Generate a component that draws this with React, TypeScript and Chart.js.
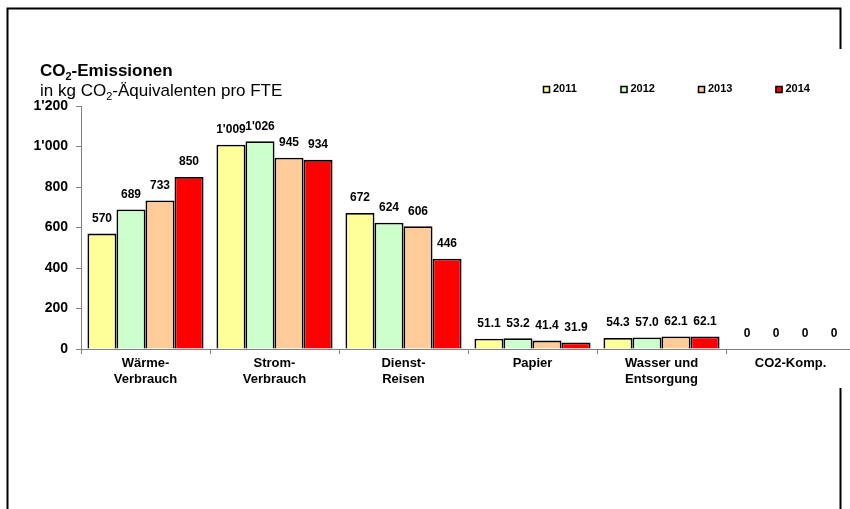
import React, { useEffect, useRef } from "react";
import { Chart, registerables } from "chart.js";

Chart.register(...registerables);

const categories: (string | string[])[] = [
  ["Wärme-", "Verbrauch"],
  ["Strom-", "Verbrauch"],
  ["Dienst-", "Reisen"],
  "Papier",
  ["Wasser und", "Entsorgung"],
  "CO2-Komp.",
];
const seriesLabels = ["2011", "2012", "2013", "2014"];
const values2011 = [570, 1009, 672, 51.1, 54.3, 0];
const values2012 = [689, 1026, 624, 53.2, 57.0, 0];
const values2013 = [733, 945, 606, 41.4, 62.1, 0];
const values2014 = [850, 934, 446, 31.9, 62.1, 0];
const labelDecimals = [0, 0, 0, 1, 1, 0];
const yTickValues = [0, 200, 400, 600, 800, 1000, 1200];
const seriesColors = ["#FFFF99", "#CCFFCC", "#FFCC99", "#FF0000"];

const titleParts = ["CO", "2", "-Emissionen"];
const subtitleParts = ["in kg CO", "2", "-Äquivalenten pro FTE"];

const FONT = "'Liberation Sans', Arial, sans-serif";

function fmt(v: number, d: number): string {
  if (v === 0) return "0";
  if (d > 0) return v.toFixed(d);
  return Math.round(v)
    .toString()
    .replace(/\B(?=(\d{3})+(?!\d))/g, "'");
}

const decorPlugin = {
  id: "decor",
  afterDraw(chart: any) {
    const ctx: CanvasRenderingContext2D = chart.ctx;
    ctx.save();
    // frame
    ctx.strokeStyle = "#000";
    ctx.lineWidth = 2;
    ctx.beginPath();
    ctx.moveTo(7.5, 512);
    ctx.lineTo(7.5, 8.5);
    ctx.lineTo(840.5, 8.5);
    ctx.lineTo(840.5, 49);
    ctx.stroke();
    ctx.beginPath();
    ctx.moveTo(840.5, 388);
    ctx.lineTo(840.5, 512);
    ctx.stroke();

    // title with subscript
    const drawSub = (parts: string[], x: number, y: number, weight: string, size: number) => {
      ctx.fillStyle = "#000";
      ctx.textBaseline = "alphabetic";
      ctx.textAlign = "left";
      ctx.font = `${weight} ${size}px ${FONT}`;
      ctx.fillText(parts[0], x, y);
      x += ctx.measureText(parts[0]).width;
      ctx.font = `${weight} ${Math.round(size * 0.62)}px ${FONT}`;
      ctx.fillText(parts[1], x, y + 4);
      x += ctx.measureText(parts[1]).width;
      ctx.font = `${weight} ${size}px ${FONT}`;
      ctx.fillText(parts[2], x, y);
    };
    drawSub(titleParts, 40, 76, "bold", 17);
    drawSub(subtitleParts, 40, 96, "normal", 17);

    // legend
    const ds = chart.data.datasets;
    ctx.font = `bold 11px ${FONT}`;
    ctx.textBaseline = "middle";
    ds.forEach((d: any, i: number) => {
      const bx = 543 + i * 77.5;
      const by = 89;
      ctx.fillStyle = d.backgroundColor;
      ctx.fillRect(bx, by - 3, 7, 7);
      ctx.strokeStyle = "#000";
      ctx.lineWidth = 1.5;
      ctx.strokeRect(bx + 0.5, by - 2.5, 6, 6);
      ctx.fillStyle = "#000";
      ctx.fillText(d.label, bx + 10, by);
    });

    // data labels
    ctx.font = `bold 12px ${FONT}`;
    ctx.textAlign = "center";
    ctx.textBaseline = "middle";
    ctx.fillStyle = "#000";
    ds.forEach((d: any, i: number) => {
      const meta = chart.getDatasetMeta(i);
      meta.data.forEach((el: any, j: number) => {
        ctx.fillText(fmt(d.data[j], labelDecimals[j]), el.x, el.y - 15);
      });
    });
    ctx.restore();
  },
};

export default function App() {
  const ref = useRef<HTMLCanvasElement | null>(null);
  useEffect(() => {
    if (!ref.current) return;
    const series = [values2011, values2012, values2013, values2014];
    const chart = new Chart(ref.current, {
      type: "bar",
      data: {
        labels: categories,
        datasets: series.map((vals, i) => ({
          label: seriesLabels[i],
          data: vals,
          backgroundColor: seriesColors[i],
          borderColor: "#000",
          borderWidth: 1.8,
          categoryPercentage: 0.9,
          barPercentage: 1.0,
        })),
      },
      options: {
        animation: false,
        responsive: false,
        devicePixelRatio: 1,
        layout: { padding: { top: 106, right: 5, left: 0, bottom: 0 } },
        plugins: {
          legend: { display: false },
          title: { display: false },
          tooltip: { enabled: false },
        },
        scales: {
          x: {
            grid: {
              offset: true,
              drawOnChartArea: false,
              drawTicks: true,
              tickLength: 5,
              color: "#808080",
            },
            border: { display: true, color: "#808080", width: 1 },
            ticks: {
              color: "#000",
              font: { family: FONT, size: 13, weight: "bold", lineHeight: 1.2 },
              padding: 2,
              maxRotation: 0,
              autoSkip: false,
            },
            afterFit: (s: any) => {
              s.height = 160;
            },
          },
          y: {
            min: 0,
            max: 1200,
            afterBuildTicks: (s: any) => {
              s.ticks = yTickValues.map((v) => ({ value: v }));
            },
            grid: {
              drawOnChartArea: false,
              drawTicks: true,
              tickLength: 5,
              color: "#808080",
            },
            border: { display: true, color: "#808080", width: 1 },
            ticks: {
              color: "#000",
              font: { family: FONT, size: 14, weight: "bold" },
              padding: 8,
              callback: (v: any) => fmt(Number(v), 0),
            },
            afterFit: (s: any) => {
              s.width = 81;
            },
          },
        },
      },
      plugins: [decorPlugin],
    });
    return () => chart.destroy();
  }, []);
  return (
    <div
      style={{
        position: "fixed",
        left: 0,
        top: 0,
        width: 850,
        height: 509,
        overflow: "hidden",
        background: "#fff",
      }}
    >
      <canvas ref={ref} width={860} height={509} style={{ display: "block" }} />
    </div>
  );
}
